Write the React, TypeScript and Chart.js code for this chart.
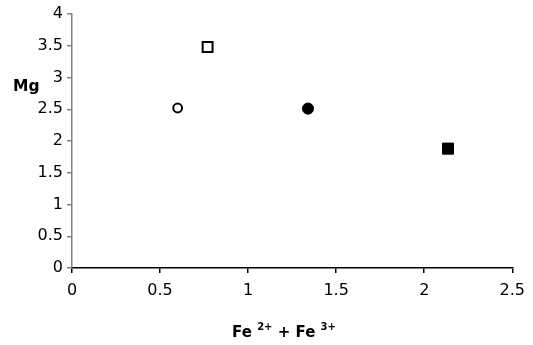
import React, { useEffect, useRef } from "react";
import { Chart, registerables } from "chart.js";

Chart.register(...registerables);

const seriesNames = ["open circle", "open square", "filled circle", "filled square"];
const feValues = [0.6, 0.77, 1.34, 2.135];
const mgValues = [2.52, 3.48, 2.51, 1.88];
const xTickValues = [0, 0.5, 1, 1.5, 2, 2.5];
const yTickValues = [0, 0.5, 1, 1.5, 2, 2.5, 3, 3.5, 4];

const FONT = "'DejaVu Sans', sans-serif";

const titlePlugin = {
  id: "customTitles",
  afterDraw(chart: any) {
    const ctx = chart.ctx as CanvasRenderingContext2D;
    ctx.save();
    ctx.fillStyle = "#000";
    ctx.textBaseline = "alphabetic";
    ctx.textAlign = "left";
    // y title
    ctx.font = `bold 15.5px ${FONT}`;
    ctx.fillText("Mg", 13, 91);
    // x title composite
    const big = `bold 15px ${FONT}`;
    const small = `bold 10px ${FONT}`;
    const parts: [string, string, number][] = [
      ["Fe ", big, 0],
      ["2+", small, -7],
      [" + Fe ", big, 0],
      ["3+", small, -7],
    ];
    let total = 0;
    for (const [t, f] of parts) {
      ctx.font = f;
      total += ctx.measureText(t).width;
    }
    let x = 284 - total / 2;
    const base = 337;
    for (const [t, f, dy] of parts) {
      ctx.font = f;
      ctx.fillText(t, x, base + dy);
      x += ctx.measureText(t).width;
    }
    ctx.restore();
  },
};

export default function App() {
  const ref = useRef<HTMLCanvasElement>(null);
  useEffect(() => {
    document.body.style.margin = "0";
    if (!ref.current) return;
    const styles = [
      { pointStyle: "circle", radius: 4.4, bg: "#fff", bw: 2 },
      { pointStyle: "rect", radius: 7, bg: "#fff", bw: 2 },
      { pointStyle: "circle", radius: 5.6, bg: "#000", bw: 1 },
      { pointStyle: "rect", radius: 7.8, bg: "#000", bw: 1 },
    ];
    const chart = new Chart(ref.current, {
      type: "scatter",
      data: {
        datasets: seriesNames.map((name, i) => ({
          label: name,
          data: [{ x: feValues[i], y: mgValues[i] }],
          pointStyle: styles[i].pointStyle as any,
          pointRadius: styles[i].radius,
          pointBackgroundColor: styles[i].bg,
          pointBorderColor: "#000",
          pointBorderWidth: styles[i].bw,
        })),
      },
      options: {
        animation: false,
        responsive: false,
        layout: { padding: { left: 0, top: 14, right: 17, bottom: 0 } },
        plugins: { legend: { display: false }, tooltip: { enabled: false } },
        scales: {
          x: {
            type: "linear",
            min: 0,
            max: 2.5,
            afterBuildTicks: (s: any) => {
              s.ticks = xTickValues.map((v) => ({ value: v }));
            },
            afterFit: (s: any) => {
              s.height = 77;
            },
            ticks: {
              color: "#000",
              font: { family: FONT, size: 16 },
              padding: 8,
              callback: (v: any) => String(v),
            },
            grid: { drawOnChartArea: false, drawTicks: true, tickLength: 5, color: "#000", lineWidth: 1.5 },
            border: { display: true, color: "#000", width: 1.5 },
          },
          y: {
            type: "linear",
            min: 0,
            max: 4,
            afterBuildTicks: (s: any) => {
              s.ticks = yTickValues.map((v) => ({ value: v }));
            },
            afterFit: (s: any) => {
              s.width = 72;
            },
            ticks: {
              color: "#000",
              font: { family: FONT, size: 16 },
              padding: 4,
              callback: (v: any) => String(v),
            },
            grid: { drawOnChartArea: false, drawTicks: true, tickLength: 5, color: "#808080", lineWidth: 1.5 },
            border: { display: true, color: "#808080", width: 1.5 },
          },
        },
      },
      plugins: [titlePlugin],
    });
    return () => chart.destroy();
  }, []);
  return <canvas ref={ref} width={533} height={345} style={{ display: "block" }} />;
}
